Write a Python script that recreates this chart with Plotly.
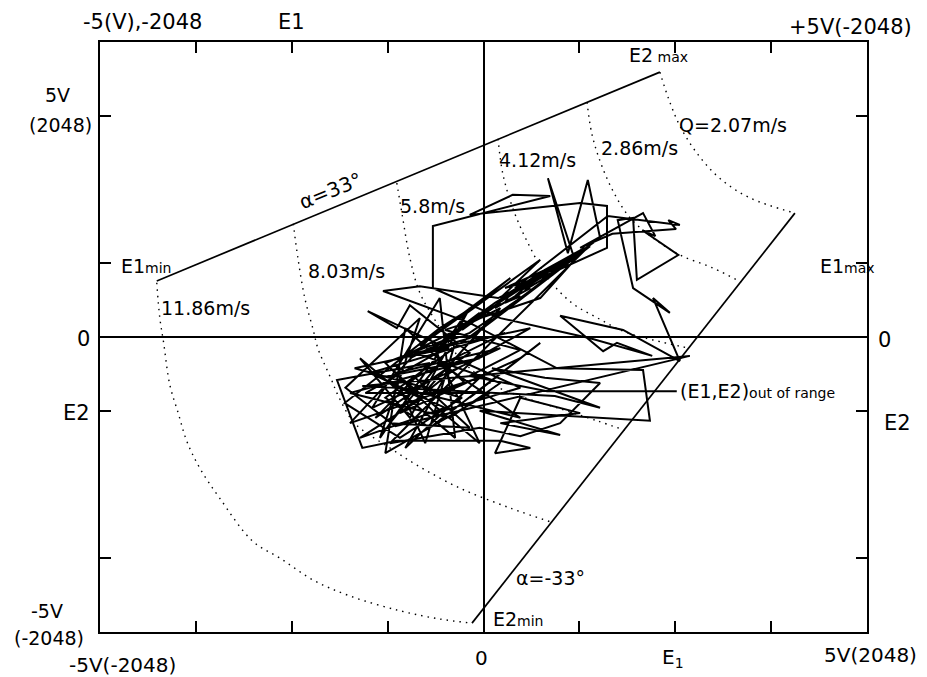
import plotly.graph_objects as go

FONT = "DejaVu Sans"

# ---- tick positions (V) ----
x_ticks = [-3.75, -2.5, -1.25, 1.25, 2.5, 3.75]
y_ticks = [-3.75, -1.25, 1.25, 3.75]

# ---- fan boundary lines (E1, E2 in V) ----
alpha_pos_e1 = [-4.26, 2.30]
alpha_pos_e2 = [0.95, 4.49]
alpha_neg_e1 = [-0.15, 4.06]
alpha_neg_e2 = [-4.85, 2.10]

# ---- constant-velocity contours ----
arc_1186_e1 = [-4.26, -4.22, -4.17, -4.09, -3.98, -3.87, -3.70, -3.44, -3.01, -2.65, -2.22, -1.74, -1.09, -0.57, -0.15]
arc_1186_e2 = [0.92, 0.32, -0.10, -0.81, -1.29, -1.76, -2.22, -2.73, -3.46, -3.75, -4.12, -4.39, -4.64, -4.78, -4.85]
arc_803_e1 = [-2.48, -2.42, -2.33, -2.22, -2.16, -2.07, -1.98, -1.90, -1.68, -1.22, -0.87, -0.31, 0.35, 0.89]
arc_803_e2 = [1.92, 1.34, 0.66, 0.12, -0.19, -0.47, -0.73, -0.98, -1.46, -1.88, -2.17, -2.56, -2.90, -3.14]
arc_58_e1 = [-1.13, -1.06, -0.96, -0.83, -0.61, -0.31, 0.08, 0.54, 0.96, 1.48, 1.84]
arc_58_e2 = [2.61, 2.07, 1.34, 0.75, 0.24, -0.36, -0.78, -1.03, -1.20, -1.42, -1.58]
arc_412_e1 = [0.19, 0.25, 0.38, 0.58, 0.84, 1.15, 1.49, 1.82, 2.21, 2.68]
arc_412_e2 = [3.36, 2.78, 2.19, 1.59, 1.00, 0.58, 0.32, 0.10, -0.05, -0.19]
arc_286_e1 = [1.35, 1.41, 1.52, 1.69, 1.91, 2.21, 2.56, 2.99, 3.36]
arc_286_e2 = [3.98, 3.46, 2.98, 2.47, 2.02, 1.68, 1.39, 1.17, 0.93]
arc_207_e1 = [2.30, 2.41, 2.56, 2.78, 3.08, 3.47, 4.06]
arc_207_e2 = [4.49, 4.05, 3.58, 3.12, 2.69, 2.36, 2.10]

traj_e1 = [
    2.52, 0.83, -0.18, 0.48, -0.50, 0.74, 1.19, 0.84, 1.10, 1.36,
    1.52, 1.00, 0.41, 1.62, 2.56, 2.41, 2.51, 1.68, 1.26, 2.08,
    2.24, 2.07, 2.54, 2.00, 1.95, 1.75, 1.95, 2.43, 2.21, 2.56,
    1.82, 1.00, 1.56, 1.74, 2.20, 1.39, 0.22, -0.66, -0.66, 0.87,
    0.38, -0.18, 1.26, 1.61, 1.61, 0.74, 0.19, -0.83, -1.31, -0.18,
    0.96, 2.08, 2.17, -0.05, 1.00, 0.22, 1.26, 0.48, 0.15, 0.61,
    0.22, -1.13, -1.58, -1.91, -0.70, -1.41, -0.18, -0.96, -1.13, -1.51,
    -0.48, -1.68, -0.28, -1.09, -1.81, -0.57, -0.05, -0.83, 0.35, -0.31,
    0.74, 0.22, 1.19, 0.61, 1.39, -0.18, -1.09, 0.22, -0.83, -1.35,
    -0.05, -1.74, -0.44, 0.22, -0.89, 0.61, -0.44, -1.09, 0.48, -0.18,
    0.74, -0.70, -1.28, -0.11, 0.93, 0.28, 1.00, -0.31, -0.05, -0.57,
    0.15, 1.06, 1.32, 0.80, 0.35,
    0.28, 0.48, 0.37, 0.61, 0.54, 0.80, 0.74, 1.00, 0.93, 1.19, 1.13, 1.32,
    -0.57, -1.22, -0.05, 0.48, 1.00, 1.52, 0.80, 0.11, 1.52, 0.93,
    -1.58, 2.69, -1.15,
    -1.80, -0.83, -1.35, -0.18, -0.96, -1.61, -0.37, -0.57, -1.45, 0.22,
    -1.15, -0.05, -0.70, -1.74, -0.24, -1.02, -1.28, 0.08, -1.54, -0.37,
    -0.76, -1.09, 0.48, -0.57, -1.22, -0.18, -0.89, 0.28, -1.48, -0.50,
    -1.61, -0.70, -0.05, -1.02, -0.37, 0.48, -0.63, -1.28,
    -0.44, -0.18, -0.28, 0.08, -0.02, 0.22, 0.15, 0.41, 0.61, 0.50,
    0.84, 0.74, 1.06, 0.97, 1.26, 1.17, 1.39, 1.00, 0.48, -0.18,
    -0.70, -0.96,
]
traj_e2 = [
    -0.92, -0.92, -0.66, -0.22, 0.12, 0.66, 1.31, 2.69, 1.42, 2.66,
    1.68, 1.20, 0.83, 2.05, 1.90, 1.98, 1.83, 1.75, 1.51, 2.10,
    1.71, 1.81, 1.39, 0.97, 2.02, 1.98, 0.83, 0.41, 0.66, -0.41,
    0.12, 0.36, -0.24, -0.10, -0.32, -0.02, 0.32, 0.83, 1.88, 2.39,
    2.41, 2.07, 2.27, 2.22, 1.51, 1.00, 0.66, 0.86, 0.78, 0.24,
    -0.53, -0.56, -1.42, -1.25, -1.66, -1.46, -1.29, -1.03, -1.97, -1.88,
    -1.76, -1.76, -1.88, -0.73, -0.44, -1.37, -0.27, 0.54, 0.15, 0.44,
    -0.19, -0.53, -1.03, -1.71, -1.12, 0.15, 0.58, -0.15, 1.00, 0.32,
    1.31, 0.66, 1.42, 0.92, 1.54, -0.02, -0.36, 0.49, -1.03, -0.69,
    -0.36, -0.95, -1.37, -0.78, -0.27, 0.15, -0.61, -1.29, -0.36, -1.03,
    -0.10, -1.54, -1.03, 0.07, 1.08, 0.83, 1.25, 0.15, 0.41, -0.10,
    0.58, 1.31, 1.51, 1.14, 0.75,
    0.58, 0.69, 0.66, 0.83, 0.80, 1.00, 0.95, 1.20, 1.14, 1.37, 1.31, 1.47,
    -0.95, -1.80, -1.54, -1.68, -1.46, -0.78, -0.69, -0.53, -1.20, -1.00,
    -0.83, -0.32, -1.51,
    -0.86, 0.32, -1.71, 0.49, -1.37, -0.36, -1.71, 0.66, -1.20, -0.19,
    -0.61, -1.80, -0.02, -1.46, -0.78, 0.15, -1.97, -0.95, -0.95, -0.10,
    -1.80, -0.86, -1.37, -0.44, -1.46, -1.54, -0.69, 0.07, -0.61, -1.20,
    -1.71, -0.95, -0.69, -1.88, -0.36, -0.86, -1.29, -0.44,
    -0.02, 0.24, 0.12, 0.46, 0.36, 0.58, 0.49, 0.69, 0.92, 0.80,
    1.08, 1.03, 1.31, 1.20, 1.42, 1.39, 1.54, 1.17, 0.66, 0.07,
    -0.19, -0.36,
]
assert len(traj_e1) == len(traj_e2)

fig = go.Figure()

dot_style = dict(color="black", width=1.4, dash="1.5px,5px", shape="spline", smoothing=1.0)
for xs, ys in [(arc_1186_e1, arc_1186_e2), (arc_803_e1, arc_803_e2), (arc_58_e1, arc_58_e2),
               (arc_412_e1, arc_412_e2), (arc_286_e1, arc_286_e2), (arc_207_e1, arc_207_e2)]:
    fig.add_trace(go.Scatter(x=xs, y=ys, mode="lines", line=dot_style, hoverinfo="skip"))

for xs, ys in [(alpha_pos_e1, alpha_pos_e2), (alpha_neg_e1, alpha_neg_e2)]:
    fig.add_trace(go.Scatter(x=xs, y=ys, mode="lines", line=dict(color="black", width=1.7), hoverinfo="skip"))

fig.add_trace(go.Scatter(x=traj_e1, y=traj_e2, mode="lines",
                         line=dict(color="black", width=2.0), hoverinfo="skip"))

def label(text, x, y, size=19, xanchor="center", angle=0):
    fig.add_annotation(x=x, y=y, xref="x", yref="y", text=text, showarrow=False,
                       xanchor=xanchor, yanchor="middle", textangle=angle,
                       font=dict(family=FONT, size=size, color="black"))

def outer(text, x, y, size=20):
    fig.add_annotation(x=x, y=y, xref="paper", yref="paper", text=text, showarrow=False,
                       xanchor="center", yanchor="middle",
                       font=dict(family=FONT, size=size, color="black"))

# contour labels
label("Q=2.07m/s", 3.25, 3.59)
label("2.86m/s", 2.03, 3.20)
label("4.12m/s", 0.70, 3.00)
label("5.8m/s", -0.66, 2.22)
label("8.03m/s", -1.79, 1.12)
label("11.86m/s", -3.62, 0.49)
label("α=33°", -2.00, 2.47, size=20, angle=-22)
label("α=-33°", 0.87, -4.08, size=19)
label("E1<span style='font-size:14px'>min</span>", -4.39, 1.20)
label("E2<span style='font-size:14px'> max</span>", 2.28, 4.78)
label("E1<span style='font-size:14px'>max</span>", 4.74, 1.20)
label("E2<span style='font-size:14px'>min</span>", 0.45, -4.78)
label("(E1,E2)<span style='font-size:14px'>out of range</span>", 2.54, -0.92, xanchor="left")

# outer axis labels (paper coordinates)
outer("-5(V),-2048", 0.055, 1.034, 21)
outer("E1", 0.250, 1.034, 21)
outer("+5V(-2048)", 0.978, 1.025, 21)
outer("5V", -0.055, 0.910, 19)
outer("(2048)", -0.052, 0.860, 19)
outer("0", -0.022, 0.497, 21)
outer("E2", -0.030, 0.371, 21)
outer("-5V", -0.069, 0.036, 19)
outer("(-2048)", -0.066, -0.010, 19)
outer("-5V(-2048)", 0.029, -0.056)
outer("0", 0.498, -0.044)
outer("E<sub>1</sub>", 0.747, -0.044)
outer("5V(2048)", 1.005, -0.039)
outer("0", 1.023, 0.495, 21)
outer("E2", 1.040, 0.354, 21)

axis_common = dict(showgrid=False, zeroline=True, zerolinecolor="black", zerolinewidth=2,
                   showline=True, linecolor="black", linewidth=2, mirror="allticks",
                   ticks="inside", ticklen=11, tickwidth=1.5, tickcolor="black",
                   showticklabels=False, fixedrange=True)

fig.update_layout(
    width=927, height=677,
    margin=dict(l=92, r=68, t=34, b=53),
    paper_bgcolor="white", plot_bgcolor="white",
    showlegend=False,
    xaxis=dict(range=[-5, 5], tickvals=x_ticks, **axis_common),
    yaxis=dict(range=[-5, 5], tickvals=y_ticks, **axis_common),
)

fig.write_html("out.html")
